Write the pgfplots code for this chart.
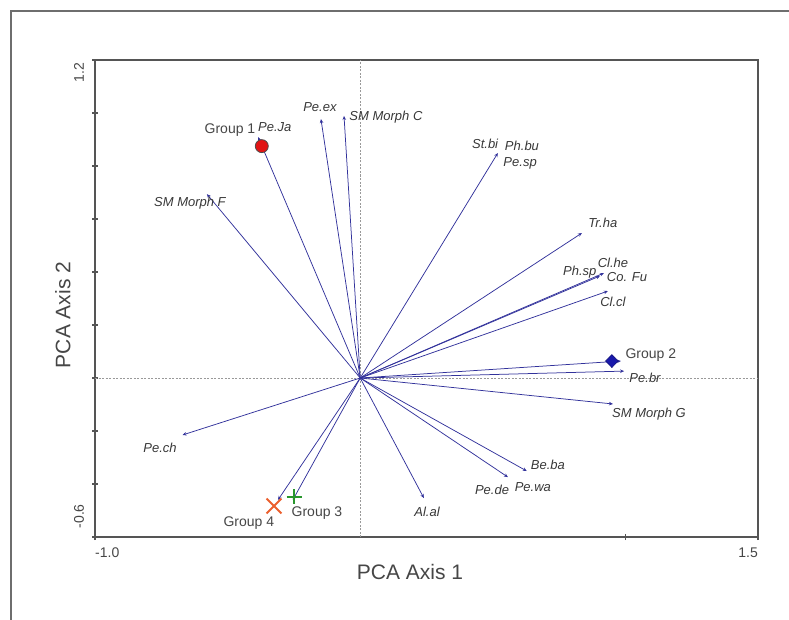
\documentclass[border=0pt]{standalone}
\usepackage{pgfplots}
\pgfplotsset{compat=1.18}
\usepackage{fontspec}
\setmainfont{Liberation Sans}
\usetikzlibrary{arrows.meta}
\definecolor{arrowc}{RGB}{50,50,155}
\definecolor{framec}{RGB}{110,110,110}
\definecolor{axisc}{RGB}{85,85,85}
\definecolor{labc}{RGB}{55,55,55}
\definecolor{grpc}{RGB}{70,70,70}
\definecolor{g1}{RGB}{225,20,20}
\definecolor{g2}{RGB}{25,25,170}
\definecolor{g3}{RGB}{40,150,45}
\definecolor{g4}{RGB}{235,95,45}
\tikzset{
  vlab/.style={font=\fontsize{13}{15}\selectfont\itshape, text=labc, inner sep=0pt},
  glab/.style={font=\fontsize{14}{16}\selectfont, text=grpc, inner sep=0pt},
}
\begin{document}
\begin{tikzpicture}[x=1pt,y=1pt]
\useasboundingbox (0,0) rectangle (789,-620);
\draw[framec, line width=1.4pt] (11,-620) -- (11,-11) -- (789,-11);
\begin{axis}[
  at={(95pt,-537pt)}, anchor=south west,
  width=663pt, height=477pt, scale only axis,
  xmin=-1, xmax=1.5, ymin=-0.6, ymax=1.2,
  xtick={-1,1,1.5},
  ytick={-0.6,-0.4,-0.2,0,0.2,0.4,0.6,0.8,1.0,1.2},
  xticklabels={}, yticklabels={},
  xtick pos=bottom, ytick pos=left,
  tick align=center, major tick length=6pt,
  tick style={axisc, line width=1.3pt},
  axis line style={axisc, line width=1.5pt},
  clip=false,
]
% zero lines
\draw[gray!80, line width=0.6pt, dash pattern=on 2pt off 1.5pt] (0,-0.6) -- (0,1.2);
\draw[gray!80, line width=0.6pt, dash pattern=on 2pt off 1.5pt] (-1,0) -- (1.5,0);
% variable vectors
\addplot[no markers, arrowc, line width=0.75pt, -{Stealth[length=4pt,width=3.5pt]},
  quiver={u=\thisrow{u}, v=\thisrow{v}}] table {
x y u v
0 0 -0.385 0.909
0 0 -0.148 0.977
0 0 -0.061 0.989
0 0 -0.578 0.694
0 0 0.519 0.849
0 0 0.836 0.547
0 0 0.904 0.385
0 0 0.919 0.396
0 0 0.934 0.328
0 0 0.983 0.064
0 0 0.995 0.026
0 0 0.953 -0.098
0 0 -0.670 -0.215
0 0 -0.310 -0.460
0 0 -0.254 -0.460
0 0 0.240 -0.453
0 0 0.557 -0.374
0 0 0.628 -0.351
};
% group centroids
\addplot[only marks, mark=*, mark size=6.5pt, mark options={fill=g1, draw=black!70, line width=0.8pt}] coordinates {(-0.371,0.875)};
\addplot[only marks, mark=diamond*, mark size=6.5pt, mark options={fill=g2, draw=g2!70!black, line width=0.5pt, xscale=1.3}] coordinates {(0.949,0.064)};
\addplot[only marks, mark=+, mark size=7.5pt, mark options={draw=g3, line width=2pt}] coordinates {(-0.249,-0.449)};
\addplot[only marks, mark=x, mark size=10.5pt, mark options={draw=g4, line width=2pt}] coordinates {(-0.325,-0.483)};
% variable labels
\node[vlab] at (-0.322,0.947) {Pe.Ja};
\node[vlab] at (-0.152,1.023) {Pe.ex};
\node[vlab] at (0.097,0.985) {SM Morph C};
\node[vlab] at (-0.642,0.660) {SM Morph F};
\node[vlab] at (0.471,0.883) {St.bi};
\node[vlab] at (0.610,0.875) {Ph.bu};
\node[vlab] at (0.603,0.811) {Pe.sp};
\node[vlab] at (0.915,0.585) {Tr.ha};
\node[vlab] at (0.953,0.434) {Cl.he};
\node[vlab] at (0.828,0.400) {Ph.sp};
\node[vlab] at (1.006,0.381) {Co. Fu};
\node[vlab] at (0.953,0.287) {Cl.cl};
\node[vlab] at (1.074,0.000) {Pe.br};
\node[vlab] at (1.089,-0.136) {SM Morph G};
\node[vlab] at (-0.755,-0.264) {Pe.ch};
\node[vlab] at (0.252,-0.506) {Al.al};
\node[vlab] at (0.497,-0.423) {Pe.de};
\node[vlab] at (0.651,-0.411) {Pe.wa};
\node[vlab] at (0.708,-0.328) {Be.ba};
% group labels
\node[glab] at (-0.491,0.936) {Group 1};
\node[glab] at (1.096,0.087) {Group 2};
\node[glab] at (-0.163,-0.509) {Group 3};
\node[glab] at (-0.420,-0.547) {Group 4};
% tick labels
\node[font=\fontsize{14}{16}\selectfont, text=grpc, anchor=west, inner sep=0pt] at (-1.0,-0.660) {-1.0};
\node[font=\fontsize{14}{16}\selectfont, text=grpc, anchor=east, inner sep=0pt] at (1.5,-0.660) {1.5};
\node[font=\fontsize{14}{16}\selectfont, text=grpc, rotate=90, inner sep=0pt] at (-1.060,1.153) {1.2};
\node[font=\fontsize{14}{16}\selectfont, text=grpc, rotate=90, inner sep=0pt] at (-1.060,-0.522) {-0.6};
% axis titles
\node[font=\fontsize{21}{24}\selectfont, text=grpc, inner sep=0pt] at (0.188,-0.732) {PCA Axis 1};
\node[font=\fontsize{21}{24}\selectfont, text=grpc, rotate=90, inner sep=0pt] at (-1.121,0.238) {PCA Axis 2};
\end{axis}
\end{tikzpicture}
\end{document}
